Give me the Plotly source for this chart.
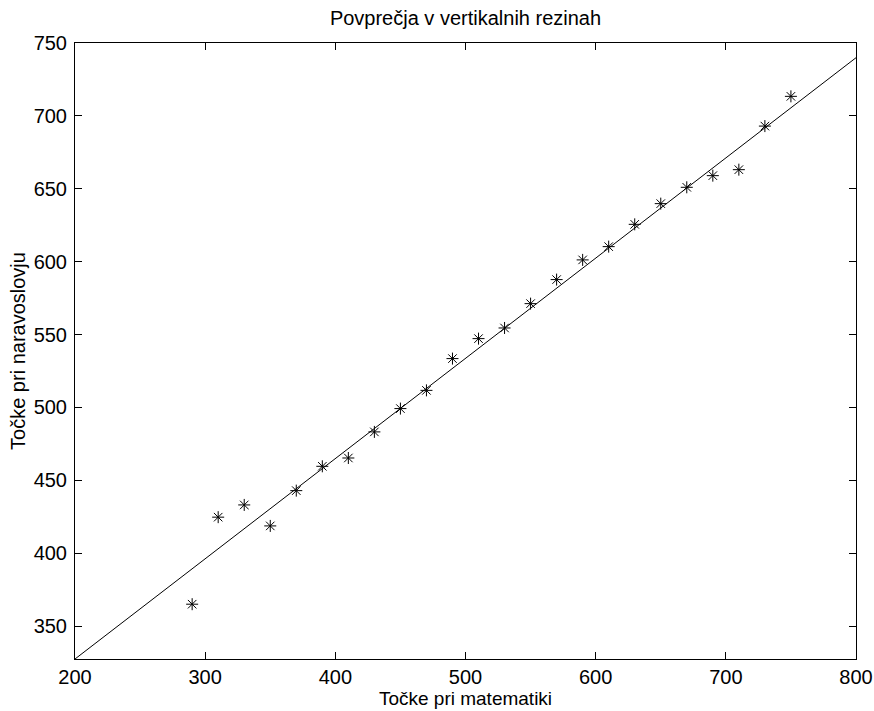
import plotly.graph_objects as go

# Data
math_pts = [290, 310, 330, 350, 370, 390, 410, 430, 450, 470, 490, 510,
            530, 550, 570, 590, 610, 630, 650, 670, 690, 710, 730, 750]
sci_pts = [365.0, 424.7, 433.1, 418.7, 442.9, 459.6, 465.3, 483.2, 499.2, 511.7, 533.5, 547.2,
           554.5, 571.2, 587.7, 601.2, 610.3, 625.6, 639.8, 651.0, 659.0, 663.1, 693.0, 713.4]

fit_x = [200, 800]
fit_y = [327.4, 739.9]

x_ticks = [200, 300, 400, 500, 600, 700, 800]
y_ticks = [350, 400, 450, 500, 550, 600, 650, 700, 750]

FONT = "Liberation Sans, Arial, Helvetica, sans-serif"
FS = 20

fig = go.Figure()
fig.add_trace(go.Scatter(x=fit_x, y=fit_y, mode="lines",
                         line=dict(color="black", width=1), showlegend=False,
                         hoverinfo="skip"))
fig.add_trace(go.Scatter(x=math_pts, y=sci_pts, mode="markers",
                         marker=dict(symbol="asterisk-open", size=10, color="black",
                                     line=dict(color="black", width=1)),
                         showlegend=False))

axis_common = dict(showline=True, linecolor="black", linewidth=1, mirror="ticks",
                   ticks="inside", ticklen=7, tickcolor="black", showgrid=False,
                   zeroline=False, tickfont=dict(family=FONT, size=FS, color="black"))

fig.update_layout(
    width=874, height=711,
    margin=dict(l=75, r=18, t=43, b=52, autoexpand=False),
    paper_bgcolor="white", plot_bgcolor="white",
    font=dict(family=FONT, color="black"),
    title=dict(text="Povprečja v vertikalnih rezinah", x=(75 + 856) / 2 / 874, xanchor="center",
               y=1 - 18 / 711, yanchor="middle",
               font=dict(family=FONT, size=FS, color="black")),
    xaxis=dict(range=[200, 800], tickvals=x_ticks, ticklabelstandoff=0, **axis_common,
               title=dict(text="Točke pri matematiki", standoff=3,
                          font=dict(family=FONT, size=19, color="black"))),
    yaxis=dict(range=[327.4, 750], tickvals=y_ticks, ticklabelstandoff=3, **axis_common,
               title=dict(text="Točke pri naravoslovju", standoff=2,
                          font=dict(family=FONT, size=FS, color="black"))),
)

fig.write_html("out.html")
